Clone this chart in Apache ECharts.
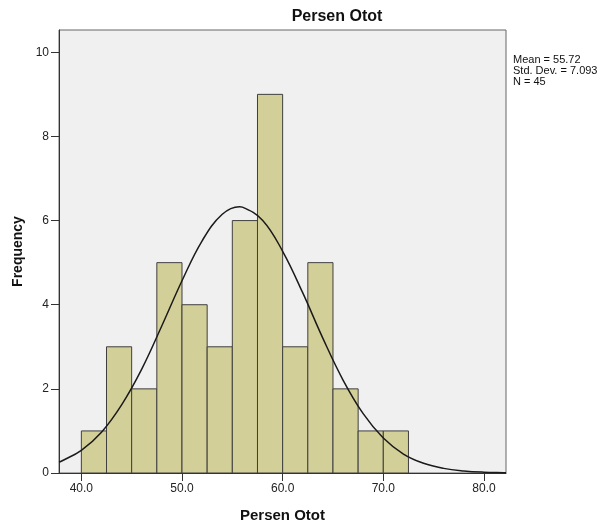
<!DOCTYPE html>
<html>
<head>
<meta charset="utf-8">
<script src="https://cdn.jsdelivr.net/npm/echarts@6/dist/echarts.min.js"></script>
<style>html,body{margin:0;padding:0;background:#fff}#c{width:608px;height:526px}</style>
</head>
<body>
<div id="c"></div>
<script>
// ---- data ----
const binStarts = [40.0, 42.5, 45.0, 47.5, 50.0, 52.5, 55.0, 57.5, 60.0, 62.5, 65.0, 67.5, 70.0];
const binWidth = 2.5;
const counts = [1, 3, 2, 5, 4, 3, 6, 9, 3, 5, 2, 1, 1];
// normal curve (x, frequency)
const curveX = [37.78, 38, 40, 42, 44, 46, 48, 50, 52, 54, 55.72, 56, 58, 60, 62, 64, 66, 68, 70, 72, 74, 76, 78, 80, 82, 82.19];
const curveY = [0.26, 0.28, 0.54, 0.97, 1.62, 2.47, 3.50, 4.57, 5.52, 6.15, 6.33, 6.32, 6.01, 5.27, 4.28, 3.20, 2.21, 1.41, 0.83, 0.45, 0.23, 0.11, 0.05, 0.02, 0.007, 0.006];
const xTicks = [40, 50, 60, 70, 80];
const yTicks = [0, 2, 4, 6, 8, 10];
const statLines = ['Mean = 55.72', 'Std. Dev. = 7.093', 'N = 45'];
const titleText = 'Persen Otot';
const xName = 'Persen Otot';
const yName = 'Frequency';

const FONT = '"Liberation Sans", Arial, sans-serif';
const chart = echarts.init(document.getElementById('c'), null, {renderer: 'canvas'});

const barData = binStarts.map((s, i) => [s, s + binWidth, counts[i]]);
const lineData = curveX.map((x, i) => [x, curveY[i]]);

chart.setOption({
  animation: false,
  backgroundColor: '#ffffff',
  grid: {left: 59, right: 102, top: 30, bottom: 53, containLabel: false, outerBoundsMode: 'none',
         show: true, backgroundColor: '#f0f0f0', borderColor: '#666', borderWidth: 1},
  xAxis: {
    type: 'value', min: 37.78, max: 82.19,
    name: xName, nameLocation: 'middle', nameGap: 35,
    nameTextStyle: {fontFamily: FONT, fontSize: 15, fontWeight: 'bold', color: '#111'},
    axisLine: {show: true, lineStyle: {color: '#333', width: 1}},
    axisTick: {show: true, inside: false, length: 8, lineStyle: {color: '#333'}, customValues: xTicks},
    axisLabel: {fontFamily: FONT, fontSize: 12, color: '#222', margin: 10, customValues: xTicks, formatter: v => v.toFixed(1)},
    splitLine: {show: false}
  },
  yAxis: {
    type: 'value', min: 0, max: 10.53,
    name: yName, nameLocation: 'middle', nameGap: 31, nameRotate: 90,
    nameTextStyle: {fontFamily: FONT, fontSize: 14, fontWeight: 'bold', color: '#111'},
    axisLine: {show: true, lineStyle: {color: '#333', width: 1}},
    axisTick: {show: true, inside: false, length: 8, lineStyle: {color: '#333'}, customValues: yTicks},
    axisLabel: {fontFamily: FONT, fontSize: 12, color: '#222', margin: 10, customValues: yTicks},
    splitLine: {show: false}
  },
  series: [
    {
      type: 'custom',
      data: barData,
      encode: {x: [0, 1], y: 2},
      clip: true,
      renderItem: function (params, api) {
        const p0 = api.coord([api.value(0), 0]);
        const p1 = api.coord([api.value(1), api.value(2)]);
        return {
          type: 'rect',
          shape: {x: p0[0], y: p1[1], width: p1[0] - p0[0], height: p0[1] - p1[1]},
          style: {fill: '#d3cf99', stroke: '#3f3f3f', lineWidth: 1}
        };
      },
      z: 2
    },
    {
      type: 'line',
      data: lineData,
      smooth: 0.4,
      symbol: 'none',
      clip: true,
      lineStyle: {color: '#1a1a1a', width: 1.5},
      z: 3
    }
  ],
  graphic: [
    {type: 'text', x: 337, y: 17, style: {text: titleText, font: 'bold 16px ' + FONT, fill: '#111', textAlign: 'center', textVerticalAlign: 'middle'}},
    {type: 'text', x: 513, y: 54, style: {text: statLines.join('\n'), font: '11px ' + FONT, lineHeight: 11, fill: '#111', textAlign: 'left', textVerticalAlign: 'top'}}
  ]
});
</script>
</body>
</html>
